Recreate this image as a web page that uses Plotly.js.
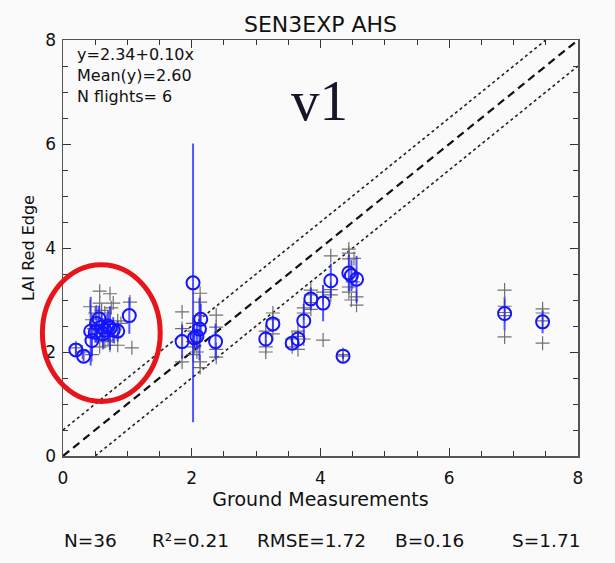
<!DOCTYPE html>
<html>
<head>
<meta charset="utf-8">
<script src="https://cdn.plot.ly/plotly-3.0.1.min.js"></script>
<style>html,body{margin:0;padding:0;background:#fafafa}</style>
</head>
<body>
<div id="chart" style="width:615px;height:563px"></div>
<script>
// Per-site mean LAI (red edge) against ground-measured LAI, with 1-sigma spread
const siteX = [0.20, 0.32, 0.45, 0.43, 0.52, 0.56, 0.50, 0.60, 0.65, 0.70, 0.73, 0.78, 0.85, 0.62, 1.03,
               1.85, 2.02, 2.04, 2.08, 2.12, 2.14, 2.37,
               3.15, 3.26, 3.56, 3.65, 3.74, 3.85, 4.04, 4.16, 4.35, 4.44, 4.48, 4.56,
               6.86, 7.45];
const siteY = [2.04, 1.92, 2.22, 2.40, 2.55, 2.64, 2.38, 2.48, 2.42, 2.50, 2.46, 2.42, 2.40, 2.35, 2.70,
               2.20, 3.33, 2.27, 2.30, 2.44, 2.63, 2.20,
               2.25, 2.54, 2.17, 2.25, 2.60, 3.02, 2.94, 3.37, 1.92, 3.52, 3.47, 3.40,
               2.74, 2.58];
const siteErr = [0.12, 0.10, 0.30, 0.66, 0.35, 0.25, 0.20, 0.25, 0.20, 0.30, 0.42, 0.25, 0.20, 0.30, 0.35,
                 0.33, 2.68, 0.20, 0.25, 0.60, 0.30, 0.35,
                 0.15, 0.15, 0.10, 0.15, 0.33, 0.22, 0.35, 0.33, 0.05, 0.35, 0.30, 0.45,
                 0.32, 0.22];

// Individual flight retrievals per site
const flightX = [0.42, 0.45, 0.45, 0.50, 0.57, 0.57, 0.57, 0.60, 0.62, 0.65, 0.68, 0.70, 0.73, 0.73, 0.75,
                 0.78, 0.80, 0.85, 0.85, 0.90, 1.04, 1.07, 0.52, 0.65, 0.48, 0.30, 0.20,
                 1.85, 1.85, 1.85, 2.02, 2.02, 2.02, 2.04, 2.04, 2.08, 2.13, 2.13, 2.13, 2.13, 2.13,
                 2.38, 2.38, 2.38, 2.38,
                 3.15, 3.15, 3.15, 3.26, 3.26, 3.26, 3.56, 3.56, 3.65, 3.65, 3.65, 3.74, 3.74, 3.74,
                 3.85, 3.85, 3.85, 3.85, 4.04, 4.04, 4.04, 4.16, 4.16, 4.16, 4.35, 4.35,
                 4.44, 4.44, 4.44, 4.44, 4.44, 4.48, 4.56, 4.56, 4.52, 4.50,
                 6.86, 6.86, 6.86, 6.86, 6.86, 7.45, 7.45, 7.45, 7.45];
const flightY = [2.87, 2.62, 1.95, 2.75, 3.17, 2.94, 2.10, 2.80, 2.25, 2.75, 2.60, 2.23, 3.12, 2.13, 2.85,
                 2.94, 2.30, 2.13, 2.60, 2.55, 2.96, 2.08, 2.30, 2.20, 2.45, 2.00, 2.08,
                 2.77, 2.45, 1.81, 2.55, 2.20, 1.95, 2.40, 2.10, 2.00, 3.13, 2.96, 2.70, 1.81, 1.70,
                 2.71, 2.48, 1.90, 2.05,
                 2.10, 2.00, 2.40, 2.75, 2.35, 2.62, 2.10, 2.25, 2.40, 2.05, 2.30, 2.85, 2.25, 2.75,
                 3.19, 2.95, 2.82, 3.10, 3.15, 3.05, 2.23, 3.85, 3.20, 3.10, 1.92, 1.95,
                 3.98, 3.90, 3.79, 3.25, 3.15, 3.00, 3.06, 2.90, 3.80, 3.35,
                 3.19, 2.88, 2.76, 2.70, 2.29, 2.83, 2.75, 2.60, 2.17];

// Axis extent, 1:1 reference and tolerance band
const axisRange = [0, 8];
const bandOffset = 0.5;

// Regression / summary statistics
const fitIntercept = 2.34, fitSlope = 0.10, meanY = 2.60, nFlights = 6;
const statLabels = ['N=36', 'R²=0.21', 'RMSE=1.72', 'B=0.16', 'S=1.71'];
const statPos = [0.054, 0.247, 0.482, 0.711, 0.938];

// Highlighted low-LAI group (data units)
const ringX = [-0.32, 1.51];
const ringY = [1.05, 3.68];

const lo = axisRange[0], hi = axisRange[1];
const span = hi - lo;

const traces = [
  { x: [lo, hi], y: [lo, hi], mode: 'lines', hoverinfo: 'skip',
    line: { color: '#111', width: 2.2, dash: '8px,5px' } },
  { x: [lo, hi - bandOffset], y: [lo + bandOffset, hi], mode: 'lines', hoverinfo: 'skip',
    line: { color: '#222', width: 1.6, dash: 'dot' } },
  { x: [lo + bandOffset, hi], y: [lo, hi - bandOffset], mode: 'lines', hoverinfo: 'skip',
    line: { color: '#222', width: 1.6, dash: 'dot' } },
  { x: flightX, y: flightY, mode: 'markers',
    marker: { symbol: 'cross-thin-open', size: 10, color: '#707070', line: { color: '#707070', width: 1.2 } } },
  { x: siteX, y: siteY, mode: 'markers',
    marker: { symbol: 'circle-open', size: 13, color: '#1414ff', line: { color: '#1414ff', width: 2 } },
    error_y: { type: 'data', array: siteErr, visible: true, color: 'rgba(30,30,255,0.75)', thickness: 2, width: 0 } }
];

const fontFam = 'DejaVu Sans, Arial, sans-serif';

const annotations = [
  { xref: 'paper', yref: 'paper', x: 0.024, y: 0.992, xanchor: 'left', yanchor: 'top', align: 'left',
    showarrow: false, font: { family: fontFam, size: 16, color: '#111' },
    text: 'y=' + fitIntercept.toFixed(2) + '+' + fitSlope.toFixed(2) + 'x<br>Mean(y)=' + meanY.toFixed(2) +
          '<br>N flights= ' + nFlights },
  { xref: 'paper', yref: 'paper', x: 0.499, y: 0.855, xanchor: 'center', yanchor: 'middle',
    showarrow: false, font: { family: 'Liberation Serif, DejaVu Serif, serif', size: 57, color: '#161628' },
    text: 'v1' }
];
statLabels.forEach((t, i) => annotations.push({
  xref: 'paper', yref: 'paper', x: statPos[i], y: -0.202, xanchor: 'center', yanchor: 'middle',
  showarrow: false, font: { family: fontFam, size: 18.5, color: '#111' }, text: t
}));

const axisCommon = {
  range: axisRange, dtick: 2, tick0: 0, ticks: 'inside', ticklen: 8, tickwidth: 1, tickcolor: '#333',
  minor: { dtick: 0.5, ticks: 'inside', ticklen: 5, tickcolor: '#333', tickwidth: 1 },
  showline: true, linecolor: '#555', linewidth: 1.5, mirror: 'ticks',
  showgrid: false, zeroline: false, fixedrange: true,
  tickfont: { family: fontFam, size: 17, color: '#111' }
};

const layout = {
  width: 615, height: 563,
  margin: { l: 63, r: 37, t: 40, b: 107 },
  paper_bgcolor: '#fafafa', plot_bgcolor: '#fafafa',
  showlegend: false,
  title: { text: 'SEN3EXP AHS', x: 0.5, xref: 'paper', xanchor: 'center', y: 0.956, yref: 'container',
           yanchor: 'middle', font: { family: fontFam, size: 22, color: '#111' } },
  xaxis: Object.assign({}, axisCommon, {
    ticklabelstandoff: 6,
    title: { text: 'Ground Measurements', standoff: 4, font: { family: fontFam, size: 19, color: '#111' } }
  }),
  yaxis: Object.assign({}, axisCommon, {
    ticklabelstandoff: 2,
    title: { text: 'LAI Red Edge', standoff: 6, font: { family: fontFam, size: 16, color: '#111' } }
  }),
  annotations: annotations,
  shapes: [{
    type: 'circle', xref: 'x domain', yref: 'y domain',
    x0: (ringX[0] - lo) / span, x1: (ringX[1] - lo) / span,
    y0: (ringY[0] - lo) / span, y1: (ringY[1] - lo) / span,
    line: { color: '#e8141b', width: 5 }
  }]
};

Plotly.newPlot('chart', traces, layout, { displayModeBar: false, staticPlot: true });
</script>
</body>
</html>
